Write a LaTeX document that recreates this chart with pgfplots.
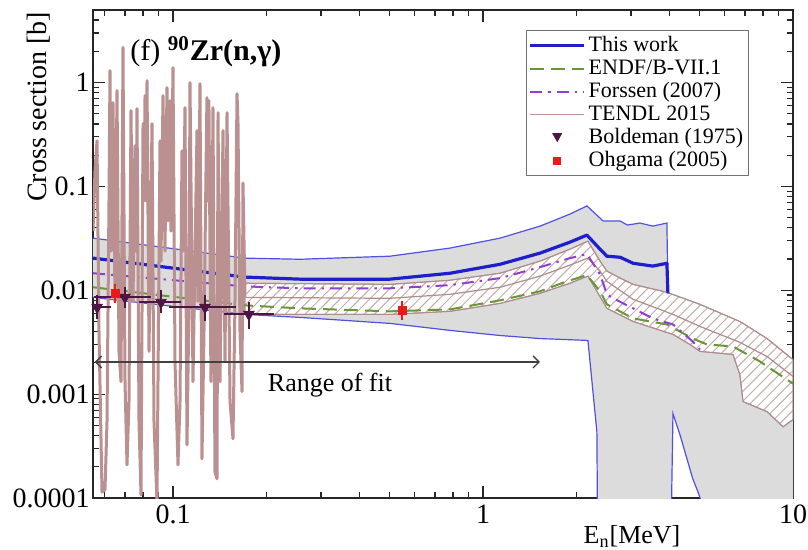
\documentclass[border=0pt]{standalone}
\usepackage{fontspec}
\setmainfont{Liberation Serif}
\usepackage{pgfplots}
\pgfplotsset{compat=1.18}
\usetikzlibrary{patterns.meta,arrows.meta}

\definecolor{twblue}{RGB}{30,30,205}
\definecolor{envblue}{RGB}{80,80,228}
\definecolor{endfgreen}{RGB}{105,150,55}
\definecolor{forpurple}{RGB}{145,60,210}
\definecolor{tendlc}{RGB}{186,144,144}
\definecolor{tendledge}{RGB}{175,140,140}
\definecolor{hatchc}{RGB}{195,172,172}
\definecolor{boldc}{RGB}{78,20,68}
\definecolor{ohgc}{RGB}{235,25,25}
\definecolor{bandgray}{RGB}{220,220,220}

\begin{document}
\begin{tikzpicture}
\path[use as bounding box] (-46.5pt,-26pt) rectangle (357.5pt,249pt);
\begin{axis}[
  at={(0,0)}, anchor=south west,
  scale only axis, width=350pt, height=244pt,
  xmode=log, ymode=log,
  xmin=0.0552, xmax=10, ymin=1e-4, ymax=5,
  xtick={0.1,1,10}, xticklabels={0.1,1,10},
  ytick={0.0001,0.001,0.01,0.1,1}, yticklabels={0.0001,0.001,0.01,0.1,1},
  minor xtick={0.06,0.07,0.08,0.09,0.2,0.3,0.4,0.5,0.6,0.7,0.8,0.9,2,3,4,5,6,7,8,9},
  minor ytick={0.0002,0.0003,0.0004,0.0005,0.0006,0.0007,0.0008,0.0009,
               0.002,0.003,0.004,0.005,0.006,0.007,0.008,0.009,
               0.02,0.03,0.04,0.05,0.06,0.07,0.08,0.09,
               0.2,0.3,0.4,0.5,0.6,0.7,0.8,0.9,2,3,4},
  tick align=inside,
  major tick length=6pt, minor tick length=3pt,
  axis line style={black!85, line width=0.9pt},
  every tick/.style={black!85, line width=0.6pt},
  tick label style={font=\fontsize{14}{16}\selectfont},
  yticklabel style={inner xsep=1.5pt},
  legend style={at={(0.937,0.959)}, anchor=north east, draw=black!55, line width=0.6pt,
    fill=white, font=\fontsize{11}{12.5}\selectfont, inner xsep=1pt, inner ysep=1.5pt,
    row sep=-0.5pt, nodes={inner sep=1.5pt}},
  legend cell align=left,
]
% legend entries
\addlegendimage{legend image code/.code={\path[draw=none,fill=none] (0pt,0pt)--(27.5pt,0pt);\draw[twblue,line width=1.5pt] (0pt,0pt)--(27pt,0pt);}}
\addlegendentry{This work}
\addlegendimage{legend image code/.code={\path[draw=none,fill=none] (0pt,0pt)--(27.5pt,0pt);\draw[endfgreen,line width=1pt,dash pattern=on 7pt off 3.5pt] (0pt,0pt)--(27pt,0pt);}}
\addlegendentry{ENDF/B-VII.1}
\addlegendimage{legend image code/.code={\path[draw=none,fill=none] (0pt,0pt)--(27.5pt,0pt);\draw[forpurple,line width=1pt,dash pattern=on 6pt off 3pt on 1.2pt off 3pt] (0pt,0pt)--(27pt,0pt);}}
\addlegendentry{Forssen (2007)}
\addlegendimage{legend image code/.code={\path[draw=none,fill=none] (0pt,0pt)--(27.5pt,0pt);\draw[tendlc,line width=0.6pt] (0pt,0pt)--(27pt,0pt);}}
\addlegendentry{TENDL 2015}
\addlegendimage{legend image code/.code={\path[draw=none,fill=none] (0pt,0pt)--(27.5pt,0pt);\fill[boldc] (13.5pt,-1.8pt) -- (11.5pt,1.8pt) -- (15.5pt,1.8pt) -- cycle;}}
\addlegendentry{Boldeman (1975)}
\addlegendimage{legend image code/.code={\path[draw=none,fill=none] (0pt,0pt)--(27.5pt,0pt);\fill[ohgc] (11.8pt,-1.7pt) rectangle (15.2pt,1.7pt);}}
\addlegendentry{Ohgama (2005)}

% uncertainty band of this work (gray)
\addplot[forget plot, fill=bandgray, draw=none] coordinates {
 (0.0552,0.0318) (0.1706,0.0204) (0.257,0.0199) (0.501,0.0213) (0.783,0.0255)
 (1.135,0.0318) (1.528,0.0415) (1.909,0.0542) (2.164,0.0649) (2.44,0.0465)
 (2.77,0.0465) (2.92,0.0425) (3.21,0.0444) (3.53,0.0415) (3.92,0.0444) (3.95,0.00935)
 (5.01,0.00732) (6.74,0.00501) (8.25,0.00343) (10,0.00215)
 (10,0.00001) (5.82,0.00001) (5.13,0.000082) (4.94,0.000114) (4.75,0.000153)
 (4.55,0.000238) (4.32,0.000406) (4.10,0.000648) (4.01,0.00001) (2.35,0.00001)
 (2.33,0.000434) (2.18,0.00329) (1.528,0.00343) (1.135,0.00367) (0.783,0.00411)
 (0.501,0.00480) (0.257,0.00548) (0.1706,0.00586) (0.0552,0.00855)
} -- cycle;

% TENDL uncertainty (hatched)
\addplot[forget plot, draw=tendledge, line width=0.5pt, fill=white,
  postaction={pattern={Lines[angle=45,distance=3.5pt,line width=0.5pt]}, pattern color=hatchc}] coordinates {
 (0.1706,0.0117) (0.501,0.0114) (0.783,0.0125) (1.135,0.0146) (1.528,0.0191)
 (1.909,0.0249) (2.18,0.0297) (2.385,0.0191) (2.51,0.0153) (2.77,0.0131)
 (3.05,0.0114) (3.92,0.00957) (5.01,0.00732) (6.74,0.00501) (8.25,0.00343) (10,0.00215)
 (10,0.000568) (9.78,0.000542) (9.29,0.000485) (8.25,0.000678) (6.90,0.000848)
 (6.74,0.00154) (6.40,0.00241) (5.01,0.00258) (4.65,0.00301) (4.10,0.00376)
 (3.05,0.00501) (2.51,0.00670) (2.33,0.00978) (2.18,0.0137) (1.909,0.0117)
 (1.528,0.00935) (1.135,0.00748) (0.783,0.00627) (0.501,0.00586) (0.1706,0.00586)
} -- cycle;

% band envelopes (thin blue)
\addplot[forget plot, envblue, line width=0.6pt] coordinates {
 (0.0552,0.0318) (0.1706,0.0204) (0.257,0.0199) (0.501,0.0213) (0.783,0.0255)
 (1.135,0.0318) (1.528,0.0415) (1.909,0.0542) (2.164,0.0649) (2.44,0.0465)
 (2.77,0.0465) (2.92,0.0425) (3.21,0.0444) (3.53,0.0415) (3.92,0.0444) (3.95,0.00935)
};
\addplot[forget plot, envblue, line width=0.6pt] coordinates {
 (0.0552,0.00855) (0.1706,0.00586) (0.257,0.00548) (0.501,0.00480) (0.783,0.00411)
 (1.135,0.00367) (1.528,0.00343) (2.18,0.00329) (2.33,0.000434) (2.35,0.00001)
};
\addplot[forget plot, envblue, line width=0.6pt] coordinates {
 (4.01,0.00001) (4.10,0.000648) (4.32,0.000406) (4.55,0.000238) (4.75,0.000153)
 (4.94,0.000114) (5.13,0.000082) (5.82,0.00001)
};

% TENDL central (smooth part)
\addplot[forget plot, tendledge, line width=0.6pt] coordinates {
 (0.1706,0.00855) (0.501,0.00837) (0.783,0.00915) (1.135,0.0107) (1.528,0.0137)
 (1.909,0.0175) (2.18,0.0204) (2.385,0.0153) (2.51,0.0122) (3.05,0.00819)
 (4.10,0.00586) (5.01,0.00449) (6.74,0.00315) (8.25,0.00230) (10,0.00148)
};

% ENDF/B-VII.1
\addplot[forget plot, endfgreen, line width=1pt, dash pattern=on 7pt off 3.5pt] coordinates {
 (0.0552,0.0107) (0.1706,0.00716) (0.257,0.00670) (0.501,0.00627) (0.783,0.00655)
 (1.135,0.00800) (1.528,0.00978) (1.866,0.0122) (2.164,0.0140) (2.385,0.00978)
 (2.51,0.00732) (3.05,0.00536) (3.92,0.00469) (4.75,0.00343) (5.28,0.00301)
 (6.40,0.00288) (7.83,0.00206) (9.78,0.00132) (10,0.00126)
};

% Forssen (2007)
\addplot[forget plot, forpurple, line width=1pt, dash pattern=on 6pt off 3pt on 1.2pt off 3pt] coordinates {
 (0.0552,0.0146) (0.1706,0.0109) (0.257,0.01045) (0.501,0.01045) (0.783,0.0112)
 (1.135,0.0131) (1.528,0.0167) (1.909,0.0204) (2.164,0.0223) (2.385,0.0143)
 (2.51,0.00915) (2.63,0.00837) (3.05,0.00670) (3.53,0.00536) (4.10,0.00469)
 (4.75,0.00321) (5.01,0.00269)
};

% This work
\addplot[forget plot, twblue, line width=1.6pt, line join=round] coordinates {
 (0.0552,0.0204) (0.1706,0.0134) (0.257,0.0128) (0.501,0.0128) (0.783,0.0146)
 (1.135,0.0178) (1.528,0.0228) (1.909,0.0291) (2.164,0.0340) (2.385,0.0249)
 (2.51,0.0213) (2.77,0.0208) (3.05,0.0182) (3.53,0.0171) (3.92,0.0182) (3.95,0.00935)
};

% TENDL 2015 resonance region
\addplot[forget plot, tendlc, line width=1.5pt, line join=round] coordinates {
 (0.05520,0.0372) (0.05603,0.1413) (0.05687,0.2753) (0.05772,0.00402) (0.05902,0.000114)
 (0.06035,0.000120) (0.06125,0.000542) (0.06217,0.0725) (0.06263,1.306) (0.06310,0.0238)
 (0.06404,0.641) (0.06500,0.00783) (0.06598,0.838) (0.06696,0.00258) (0.06797,0.00132)
 (0.06898,2.178) (0.07002,0.00132) (0.07106,0.000208) (0.07213,0.000847) (0.07321,0.536)
 (0.07430,0.00783) (0.07542,0.246) (0.07598,0.0238) (0.07655,0.561) (0.07770,0.000542)
 (0.07886,0.000107) (0.08004,0.402) (0.08064,0.0725) (0.08124,0.748) (0.08184,0.0725)
 (0.08245,1.045) (0.08368,0.00258) (0.08556,0.402) (0.08684,0.000542) (0.08879,0.0000915)
 (0.09080,0.275) (0.09147,0.0191) (0.09284,0.748) (0.09423,0.0238) (0.09564,0.895)
 (0.09636,0.0465) (0.09779,0.670) (0.09852,0.0372) (0.1000,1.396) (0.10150,0.00206)
 (0.10378,0.000208) (0.10534,0.000847) (0.10691,0.220) (0.10772,0.0238) (0.10933,0.573)
 (0.11096,0.000325) (0.11262,0.00783) (0.11346,1.0) (0.11601,0.00132) (0.11950,0.344)
 (0.12039,0.00783) (0.12220,0.977) (0.12402,0.000238) (0.12589,0.00402) (0.12867,0.716)
 (0.12963,0.0725) (0.13059,0.670) (0.13255,0.00132) (0.13459,0.573) (0.13657,0.000178)
 (0.13868,0.000153) (0.13971,0.513) (0.14180,0.00132) (0.14498,0.344) (0.14716,0.00206)
 (0.14938,0.513) (0.15275,0.000847) (0.15615,0.000372) (0.15849,0.00783) (0.16087,0.783)
 (0.16207,0.402) (0.16447,0.00402) (0.16696,0.001057) (0.16820,0.108) (0.17072,0.00855)
};

% Boldeman (1975)
\addplot[forget plot, only marks, mark=triangle*, mark size=3pt,
  mark options={rotate=180, fill=boldc, draw=boldc},
  error bars/.cd, x dir=both, x explicit, y dir=both, y explicit,
  error bar style={line width=1pt, boldc},
  error mark options={boldc, line width=1pt, mark size=3pt}]
  table[x=x, y=y, x error plus=xp, x error minus=xm, y error plus=yp, y error minus=ym] {
 x       y        xm      xp      ym       yp
 0.0569  0.00685  0.0017  0.0035  0.00085  0.00098
 0.0700  0.00855  0.0119  0.0112  0.00090  0.00080
 0.0915  0.00766  0.0103  0.0100  0.00081  0.00124
 0.1268  0.00685  0.0253  0.0259  0.00112  0.00098
 0.1757  0.00586  0.0230  0.0266  0.00106  0.00084
};

% Ohgama (2005)
\addplot[forget plot, only marks, mark=square*, mark size=2pt,
  mark options={fill=ohgc, draw=ohgc},
  error bars/.cd, y dir=both, y explicit,
  error bar style={line width=1pt, ohgc},
  error mark options={ohgc, line width=1.2pt, mark size=2.6pt}]
  table[x=x, y=y, y error plus=yp, y error minus=ym] {
 x      y        ym       yp
 0.065  0.00935  0.00080  0.00090
 0.548  0.00641  0.00055  0.00060
};
\end{axis}

% annotations
\draw[black!75, line width=0.7pt, {Straight Barb[length=3pt,width=6pt]}-{Straight Barb[length=3pt,width=6pt]}]
  (0.8pt,68pt) -- (223.5pt,68pt);
\node[anchor=base, font=\fontsize{13}{15}\selectfont, inner sep=0pt] at (118.5pt,53pt) {Range of fit};
\node[anchor=base west, font=\fontsize{15}{18}\selectfont, inner sep=0pt] at (18.5pt,218.5pt)
  {(f) \textsuperscript{\textbf{90}}\textbf{Zr(n,γ)}};
\node[anchor=base, rotate=90, font=\fontsize{14}{16}\selectfont, inner sep=0pt] at (-23pt,195.5pt)
  {Cross section [b]};
\node[anchor=base, font=\fontsize{13}{15}\selectfont, inner sep=0pt] at (269.5pt,-22.8pt)
  {E\textsubscript{n}[MeV]};
\end{tikzpicture}
\end{document}
